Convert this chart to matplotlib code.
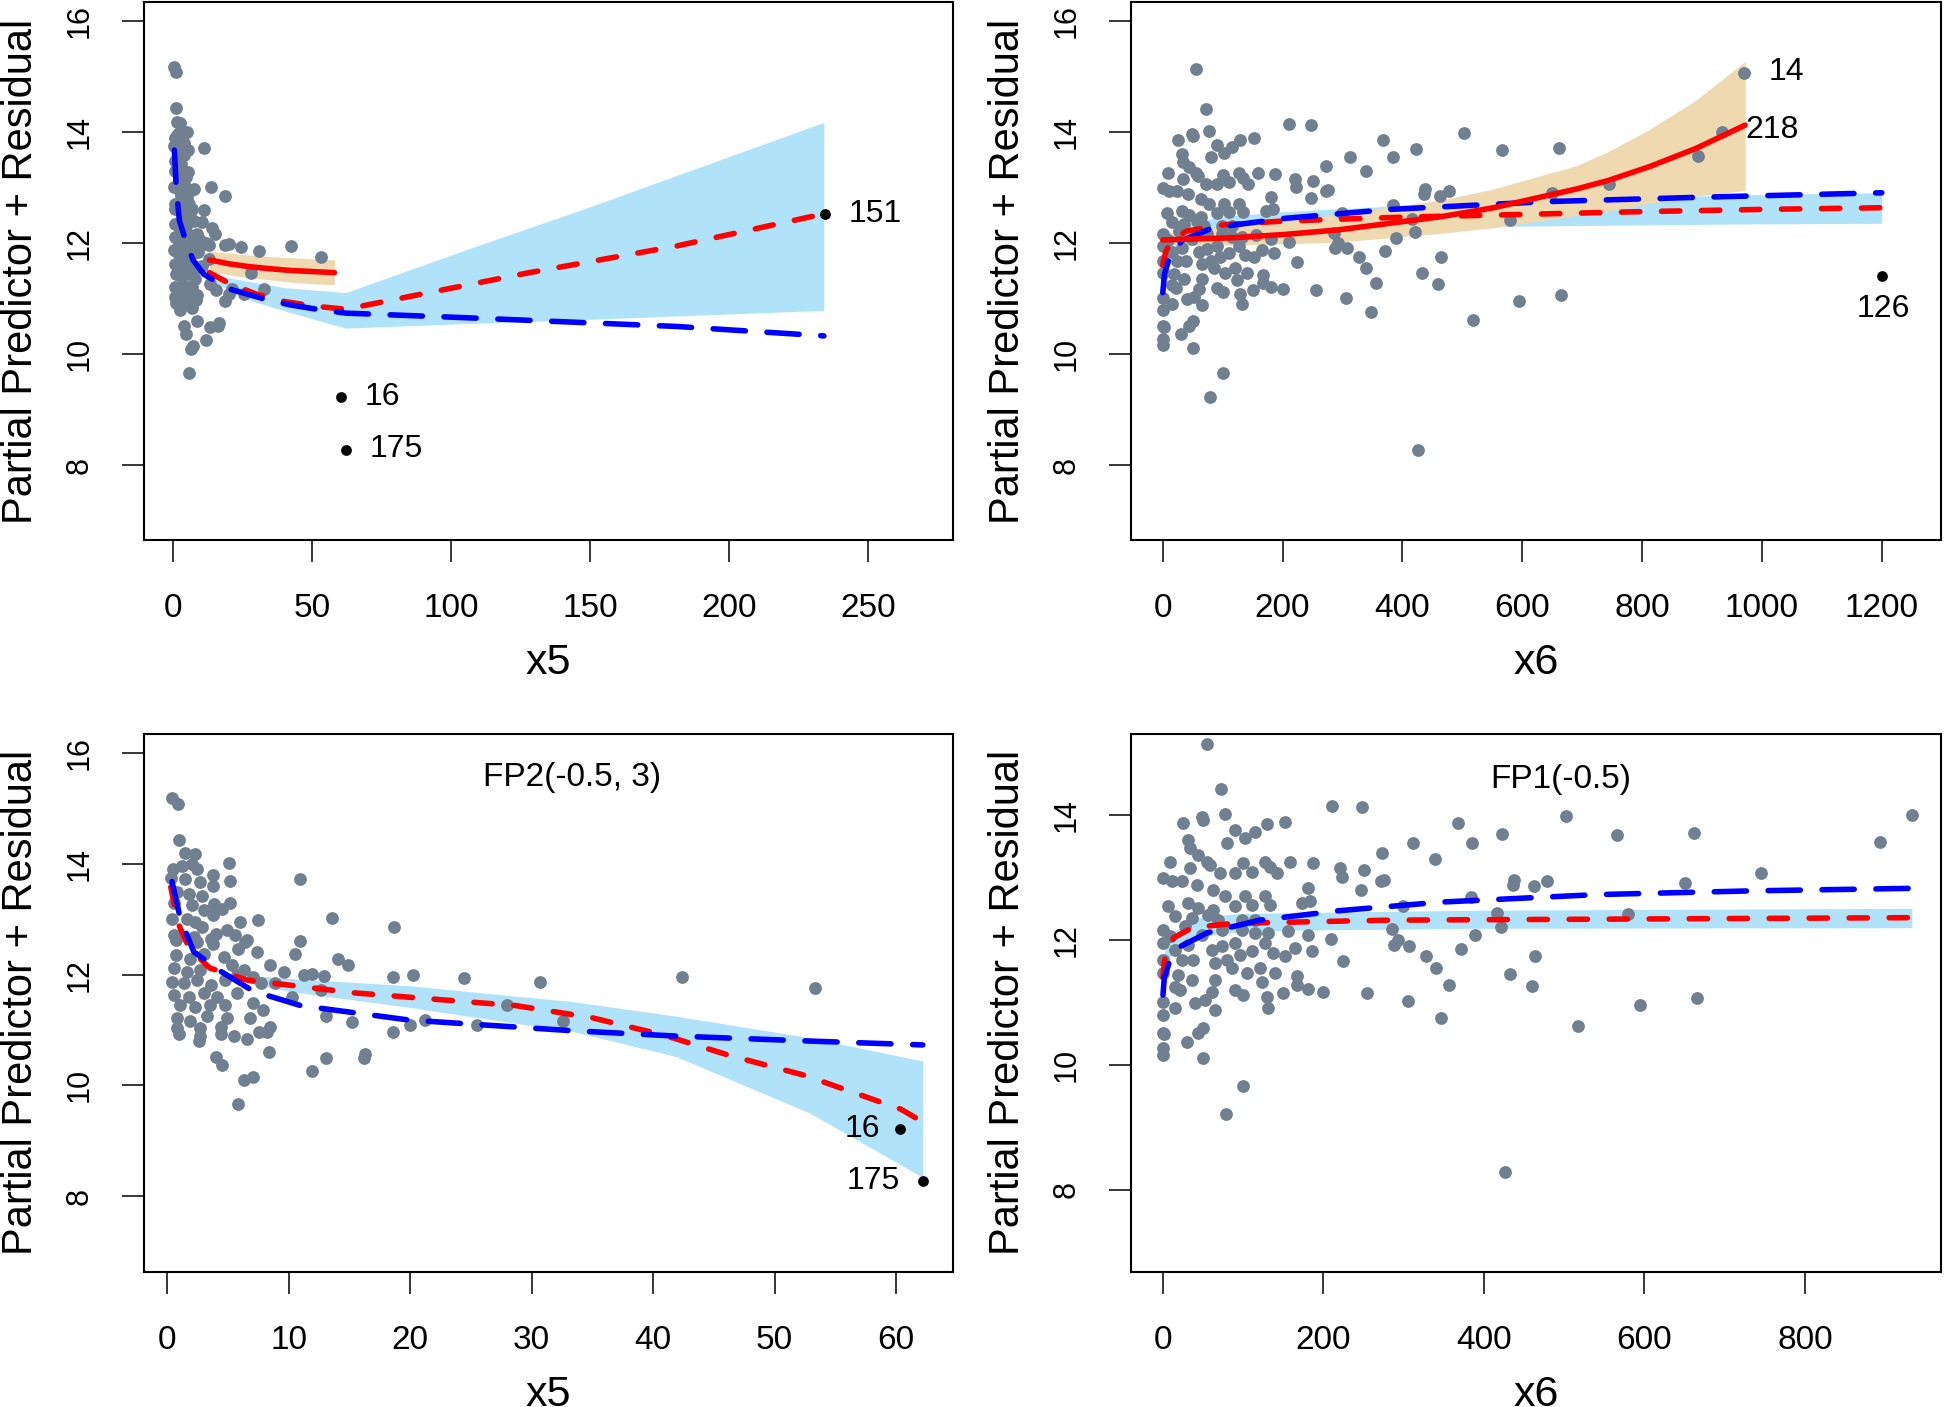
import numpy as np
import matplotlib.pyplot as plt

plt.rcParams['font.family'] = ['Liberation Sans', 'DejaVu Sans']

POINT_GREY = '#708090'
BAND_BLUE = '#B0E2FA'
BAND_TAN = '#EFD9B0'
YLABEL = "Partial Predictor + Residual"

# ---- partial residuals against x5 (both x5 panels) ----
x5_pts = [0.4, 0.9, 1.0, 10.9, 13.6, 18.7, 10.9, 10.5, 14.1, 14.9, 11.3, 11.9, 12.9, 18.6, 20.2,
          24.4, 30.7, 42.4, 53.3, 12.7, 10.3, 28.0, 32.6, 13.1, 15.2, 21.2, 20.0, 25.5, 18.6, 8.4,
          13.1, 11.9, 16.3, 16.2, 6.3, 7.1, 5.8, 4.0, 4.5, 2.6, 4.4, 7.6, 8.2, 1.0,
          1.5, 2.3, 5.07, 0.5, 1.2, 2.05, 2.46, 3.8, 5.2, 3.8, 2.73, 1.5, 0.8, 1.77, 2.87, 2.05,
          3.83, 5.2, 4.5, 3.0, 3.8, 0.4, 1.6, 2.3, 6.0, 7.5, 2.9, 4.9, 4.0, 0.54, 2.2, 6.6, 3.6,
          5.6, 0.6, 0.3,
          0.7, 2.46, 3.8, 6.4, 5.8, 7.4, 0.7, 1.9, 3.0, 4.65, 8.5, 0.54, 1.64, 2.73, 5.35, 6.3,
          9.6, 0.4, 1.36, 2.46, 3.6, 4.8, 5.76, 7.1, 7.7, 8.9, 0.54, 1.77, 3.0, 4.1, 5.76, 1.09,
          2.3, 3.56, 4.8, 7.1, 7.9, 0.8, 1.9, 3.3, 4.9, 6.85, 8.5, 0.8, 2.73, 4.4, 5.5, 6.6, 2.73]
y5_pts = [15.18, 15.08, 14.43, 13.72, 13.02, 12.86, 12.60, 12.38, 12.28, 12.17, 11.99, 12.01,
          11.97, 11.96, 11.99, 11.94, 11.86, 11.95, 11.75, 11.72, 11.59, 11.46, 11.17, 11.26,
          11.15, 11.18, 11.09, 11.09, 10.96, 10.60, 10.49, 10.26, 10.57, 10.50, 10.10, 10.15,
          9.66, 10.51, 10.36, 10.80, 10.93, 10.96, 10.97, 10.92,
          14.19, 14.17, 14.01, 13.90, 13.96, 13.99, 13.90, 13.80, 13.69, 13.60, 13.68, 13.72,
          13.49, 13.46, 13.42, 13.25, 13.28, 13.29, 13.19, 13.16, 13.07, 13.01, 13.01, 12.95,
          12.95, 12.98, 12.86, 12.80, 12.74, 12.71, 12.68, 12.62, 12.65, 12.71, 13.30, 13.75,
          12.62, 12.59, 12.56, 12.59, 12.47, 12.41, 12.35, 12.29, 12.38, 12.32, 12.17, 12.11,
          12.05, 12.08, 12.17, 12.08, 12.05, 11.87, 11.84, 11.90, 11.81, 11.90, 11.99, 11.96,
          11.84, 11.84, 11.63, 11.60, 11.66, 11.60, 11.66, 11.45, 11.42, 11.45, 11.45, 11.48,
          11.36, 11.21, 11.16, 11.25, 11.21, 11.21, 11.06, 11.03, 11.03, 11.06, 10.89, 10.83,
          10.89]

# ---- partial residuals against x6 (both x6 panels) ----
x6_pts = [25.7, 50.6, 90, 79.7, 102.5, 115, 129.5, 152, 31.9, 34, 44.4, 54.8, 59, 9.1, 34, 71.4,
          100.4, 90, 110.8, 127.4, 133.6, 142, 158.5, 187.6, 0.7, 11.2, 23.7, 42.3, 63, 77.6,
          102.5, 127.4, 181, 183.5, 7, 31.9, 44.4, 63, 90, 110.8, 133.6, 173, 15.3, 36.1, 56.8,
          69.2, 98.4, 115, 0.7, 9.1, 27.8, 48.6, 73.5, 98.4, 115, 131.5, 156.4, 181,
          0, 15.3, 31.9, 61, 73.5, 90, 96.3, 110.8, 127.4, 137.8, 152, 164.8, 185.6, 0, 23.7,
          38.1, 65, 79.7, 85.9, 104.6, 121.2, 140, 167, 0, 19.4, 36.1, 65, 15.3, 21.5, 61, 90,
          100.4, 123.3, 129.5, 150.2, 167, 181, 200, 0, 15.3, 40.2, 52.7, 65, 131.5, 0, 0.7,
          1.5, 50.6, 44.4, 29.9, 0.7, 0.7, 50.6,
          55, 72, 77, 49, 211, 248, 368, 422, 385, 312, 273, 339, 502, 566, 662, 893, 933, 745,
          650, 478, 463, 437, 436, 384, 299, 416, 579, 421, 389, 286, 288, 293, 307, 328, 340,
          371, 356, 306, 347, 432, 460, 464, 517, 594, 665, 426, 255, 224, 210, 223, 221, 251,
          247, 272, 276, 100, 79]
y6_pts = [13.87, 13.93, 13.77, 13.55, 13.63, 13.74, 13.86, 13.90, 13.61, 13.47, 13.37, 13.26,
          13.21, 13.26, 13.15, 13.07, 13.23, 13.07, 13.10, 13.26, 13.18, 13.07, 13.26, 13.24,
          12.99, 12.94, 12.94, 12.88, 12.80, 12.70, 12.70, 12.70, 12.83, 12.62, 12.54, 12.59,
          12.51, 12.48, 12.54, 12.56, 12.56, 12.59, 12.38, 12.35, 12.40, 12.32, 12.32, 12.32,
          12.16, 12.06, 12.22, 12.08, 12.16, 12.16, 12.11, 12.11, 12.14, 12.08,
          11.95, 11.84, 11.92, 11.84, 11.90, 11.95, 11.76, 11.82, 11.95, 11.79, 11.75, 11.87,
          11.82, 11.68, 11.68, 11.68, 11.63, 11.68, 11.55, 11.47, 11.55, 11.47, 11.42, 11.47,
          11.44, 11.36, 11.36, 11.25, 11.20, 11.17, 11.20, 11.12, 11.33, 11.09, 11.15, 11.28,
          11.21, 11.17, 11.01, 10.91, 10.99, 11.04, 10.88, 10.91, 10.80, 10.51, 10.49, 10.59,
          10.51, 10.37, 10.27, 10.16, 10.11,
          15.15, 14.42, 14.02, 13.97, 14.15, 14.14, 13.87, 13.70, 13.55, 13.55, 13.40, 13.30,
          13.99, 13.68, 13.71, 13.58, 14.01, 13.07, 12.91, 12.94, 12.86, 12.97, 12.88, 12.69,
          12.55, 12.44, 12.42, 12.21, 12.09, 12.18, 11.92, 12.00, 11.91, 11.75, 11.55, 11.86,
          11.28, 11.02, 10.76, 11.46, 11.27, 11.75, 10.62, 10.96, 11.07, 8.28, 11.15, 11.66,
          12.02, 13.01, 13.15, 13.13, 12.81, 12.95, 12.96, 9.66, 9.22]

# labelled observations
x5_flag = [60.3, 62.2, 234.4]
y5_flag = [9.22, 8.28, 12.53]
x6_flag = [970.6, 1200.0]
y6_flag = [15.07, 11.41]

# ---- fitted curves, top left ----
tl_tan_x = [13, 20, 27, 35, 42, 50, 58]
tl_tan_lo = [11.49, 11.43, 11.38, 11.34, 11.30, 11.27, 11.25]
tl_tan_hi = [11.86, 11.82, 11.79, 11.76, 11.74, 11.72, 11.70]
tl_red_solid = [11.70, 11.63, 11.58, 11.54, 11.51, 11.49, 11.47]
tl_blue_band_x = [13, 26, 40, 62, 104, 150, 234]
tl_blue_band_lo = [11.35, 11.00, 10.78, 10.47, 10.55, 10.63, 10.79]
tl_blue_band_hi = [11.45, 11.32, 11.20, 11.11, 11.86, 12.66, 14.18]
tl_red_dash_x = [13, 20, 30, 40, 50, 62, 92, 127, 181, 234]
tl_red_dash = [11.47, 11.28, 11.08, 10.95, 10.87, 10.81, 11.11, 11.46, 11.95, 12.53]
tl_blue_dash_x = [0.4, 1.1, 2.2, 4.4, 7.1, 11, 19.9, 33.1, 41.9, 52.9, 62.2, 104, 181, 234]
tl_blue_dash = [13.68, 13.0, 12.41, 12.06, 11.70, 11.44, 11.18, 10.99, 10.89, 10.80, 10.74,
                10.66, 10.50, 10.33]

# ---- fitted curves, top right ----
tr_tan_x = [0, 119, 205, 292, 379, 465, 552, 691, 743, 812, 890, 972]
tr_tan_lo = [11.95, 11.97, 11.99, 12.02, 12.10, 12.18, 12.28, 12.50, 12.58, 12.72, 12.85, 12.95]
tr_tan_hi = [12.18, 12.33, 12.40, 12.52, 12.65, 12.78, 12.98, 13.40, 13.65, 14.05, 14.58, 15.28]
tr_red_solid = [12.06, 12.10, 12.16, 12.24, 12.36, 12.48, 12.64, 12.98, 13.13, 13.38, 13.71, 14.13]
tr_band_x = [0, 20, 50, 100, 200, 400, 600, 800, 1000, 1200]
tr_band_lo = [11.30, 11.85, 12.05, 12.13, 12.20, 12.27, 12.31, 12.33, 12.35, 12.36]
tr_band_hi = [11.90, 12.25, 12.38, 12.48, 12.57, 12.68, 12.76, 12.83, 12.88, 12.91]
tr_red_dash_x = [0, 5, 15, 40, 100, 200, 400, 600, 800, 1000, 1200]
tr_red_dash = [11.60, 11.85, 12.05, 12.22, 12.33, 12.40, 12.47, 12.52, 12.57, 12.61, 12.64]
tr_blue_dash_x = [0, 3, 10, 32, 84, 205, 379, 639, 899, 1200]
tr_blue_dash = [11.11, 11.45, 11.71, 12.05, 12.28, 12.45, 12.61, 12.75, 12.83, 12.91]

# ---- fitted curves, bottom left: FP2(-0.5, 3) ----
bl_band_x = [6.6, 10, 19.9, 28.7, 33.1, 41.9, 52.9, 62.2]
bl_band_lo = [11.85, 11.70, 11.41, 11.12, 10.99, 10.52, 9.50, 8.34]
bl_band_hi = [11.99, 11.93, 11.80, 11.61, 11.52, 11.25, 10.86, 10.44]
bl_red_dash_x = [0.3, 0.9, 1.8, 3.5, 6.6, 15.4, 28.7, 35, 41, 46.3, 52.5, 60.4, 62.2]
bl_red_dash = [13.58, 12.93, 12.48, 12.12, 11.90, 11.67, 11.44, 11.22, 10.90, 10.54, 10.18,
               9.57, 9.34]
bl_blue_dash_x = [0.4, 1.1, 2.2, 4.4, 7.1, 11, 19.9, 33.1, 41.9, 52.9, 62.2]
bl_blue_dash = [13.68, 13.0, 12.41, 12.06, 11.70, 11.44, 11.18, 10.99, 10.89, 10.80, 10.73]

# ---- fitted curves, bottom right: FP1(-0.5) ----
br_band_x = [0, 5, 15, 40, 89, 153, 400, 933]
br_band_lo = [11.30, 11.60, 11.90, 12.05, 12.12, 12.16, 12.19, 12.20]
br_band_hi = [11.70, 11.95, 12.15, 12.35, 12.42, 12.44, 12.48, 12.51]
br_red_dash_x = [0.3, 2, 5, 14, 37, 89, 283, 933]
br_red_dash = [11.40, 11.65, 11.82, 12.04, 12.20, 12.27, 12.32, 12.36]
br_blue_dash_x = [0.3, 2, 7.8, 20.7, 56, 121, 218, 347, 541, 735, 933]
br_blue_dash = [11.12, 11.40, 11.63, 11.89, 12.12, 12.32, 12.47, 12.61, 12.73, 12.79, 12.83]

LW = 4.0
RED_DASH = (0, (3.3, 3.9))
BLUE_DASH = (0, (5.8, 3.9))
PT_SIZE = 85
FLAG_SIZE = 60


def style_axes(ax, xlim, ylim, xticks, yticks, xlabel):
    ax.set_xlim(xlim)
    ax.set_ylim(ylim)
    ax.set_xticks(xticks)
    ax.set_yticks(yticks)
    ax.tick_params(direction='out', length=15.8, width=1.1)
    ax.tick_params(axis='x', labelsize=24, pad=22)
    ax.tick_params(axis='y', labelsize=22, pad=20, labelrotation=90)
    plt.setp(ax.get_yticklabels(), va='center')
    ax.set_xlabel(xlabel, fontsize=31)
    ax.xaxis.set_label_coords(0.5, -0.1915)
    ax.set_ylabel(YLABEL, fontsize=30)
    ax.yaxis.set_label_coords(-0.127, 0.5)
    for sp in ax.spines.values():
        sp.set_linewidth(1.5)


def red_dashed(ax, x, y):
    ax.plot(x, y, color='red', lw=LW, ls=RED_DASH, dash_capstyle='round', zorder=3)


def blue_dashed(ax, x, y):
    ax.plot(x, y, color='blue', lw=LW, ls=BLUE_DASH, dash_capstyle='round', zorder=3)


def main():
    fig = plt.figure(figsize=(19.44, 14.07), dpi=100)
    ax_tl = fig.add_axes([0.0741, 0.6162, 0.4162, 0.3824])
    ax_tr = fig.add_axes([0.5818, 0.6162, 0.4167, 0.3824])
    ax_bl = fig.add_axes([0.0741, 0.0959, 0.4162, 0.3827])
    ax_br = fig.add_axes([0.5818, 0.0959, 0.4167, 0.3827])

    # top left: x5 with all observations
    ax = ax_tl
    ax.fill_between(tl_blue_band_x, tl_blue_band_lo, tl_blue_band_hi, color=BAND_BLUE, lw=0, zorder=1)
    ax.fill_between(tl_tan_x, tl_tan_lo, tl_tan_hi, color=BAND_TAN, lw=0, zorder=1)
    ax.scatter(x5_pts, y5_pts, s=PT_SIZE, color=POINT_GREY, lw=0, zorder=2)
    ax.plot(tl_tan_x, tl_red_solid, color='red', lw=LW, solid_capstyle='round', zorder=3)
    red_dashed(ax, tl_red_dash_x, tl_red_dash)
    blue_dashed(ax, tl_blue_dash_x, tl_blue_dash)
    ax.scatter(x5_flag, y5_flag, s=FLAG_SIZE, color='black', lw=0, zorder=4)
    ax.text(69, 9.23, "16", fontsize=23, va='center', ha='left')
    ax.text(70.7, 8.29, "175", fontsize=23, va='center', ha='left')
    ax.text(243, 12.53, "151", fontsize=23, va='center', ha='left')
    style_axes(ax, (-10.5, 280.5), (6.65, 16.35), [0, 50, 100, 150, 200, 250],
               [8, 10, 12, 14, 16], "x5")

    # top right: x6 with all observations
    ax = ax_tr
    ax.fill_between(tr_band_x, tr_band_lo, tr_band_hi, color=BAND_BLUE, lw=0, zorder=1)
    ax.fill_between(tr_tan_x, tr_tan_lo, tr_tan_hi, color=BAND_TAN, lw=0, zorder=1)
    ax.scatter(x6_pts + [x6_flag[0]], y6_pts + [y6_flag[0]], s=PT_SIZE, color=POINT_GREY,
               lw=0, zorder=2)
    red_dashed(ax, tr_red_dash_x, tr_red_dash)
    blue_dashed(ax, tr_blue_dash_x, tr_blue_dash)
    ax.plot(tr_tan_x, tr_red_solid, color='red', lw=LW, solid_capstyle='round', zorder=3)
    ax.scatter(x6_flag[1:], y6_flag[1:], s=FLAG_SIZE, color='black', lw=0, zorder=4)
    ax.text(1011, 15.09, "14", fontsize=23, va='center', ha='left')
    ax.text(972, 14.05, "218", fontsize=23, va='center', ha='left')
    ax.text(1202, 10.81, "126", fontsize=23, va='center', ha='center')
    style_axes(ax, (-53, 1299), (6.65, 16.35), [0, 200, 400, 600, 800, 1000, 1200],
               [8, 10, 12, 14, 16], "x6")

    # bottom left: FP2 fit without obs 151
    ax = ax_bl
    ax.fill_between(bl_band_x, bl_band_lo, bl_band_hi, color=BAND_BLUE, lw=0, zorder=1)
    ax.scatter(x5_pts, y5_pts, s=PT_SIZE, color=POINT_GREY, lw=0, zorder=2)
    red_dashed(ax, bl_red_dash_x, bl_red_dash)
    blue_dashed(ax, bl_blue_dash_x, bl_blue_dash)
    ax.scatter(x5_flag[:2], y5_flag[:2], s=FLAG_SIZE, color='black', lw=0, zorder=4)
    ax.text(58.7, 9.22, "16", fontsize=23, va='center', ha='right')
    ax.text(60.3, 8.27, "175", fontsize=23, va='center', ha='right')
    ax.text(33.3, 15.55, "FP2(-0.5, 3)", fontsize=24, va='center', ha='center')
    style_axes(ax, (-1.9, 64.7), (6.63, 16.35), [0, 10, 20, 30, 40, 50, 60],
               [8, 10, 12, 14, 16], "x5")

    # bottom right: FP1 fit without obs 14 and 126
    ax = ax_br
    ax.fill_between(br_band_x, br_band_lo, br_band_hi, color=BAND_BLUE, lw=0, zorder=1)
    ax.scatter(x6_pts, y6_pts, s=PT_SIZE, color=POINT_GREY, lw=0, zorder=2)
    red_dashed(ax, br_red_dash_x, br_red_dash)
    blue_dashed(ax, br_blue_dash_x, br_blue_dash)
    ax.text(496, 14.58, "FP1(-0.5)", fontsize=24, va='center', ha='center')
    style_axes(ax, (-39.5, 969.4), (6.68, 15.31), [0, 200, 400, 600, 800],
               [8, 10, 12, 14], "x6")

    fig.savefig("out.png", dpi=100)


if __name__ == "__main__":
    main()
